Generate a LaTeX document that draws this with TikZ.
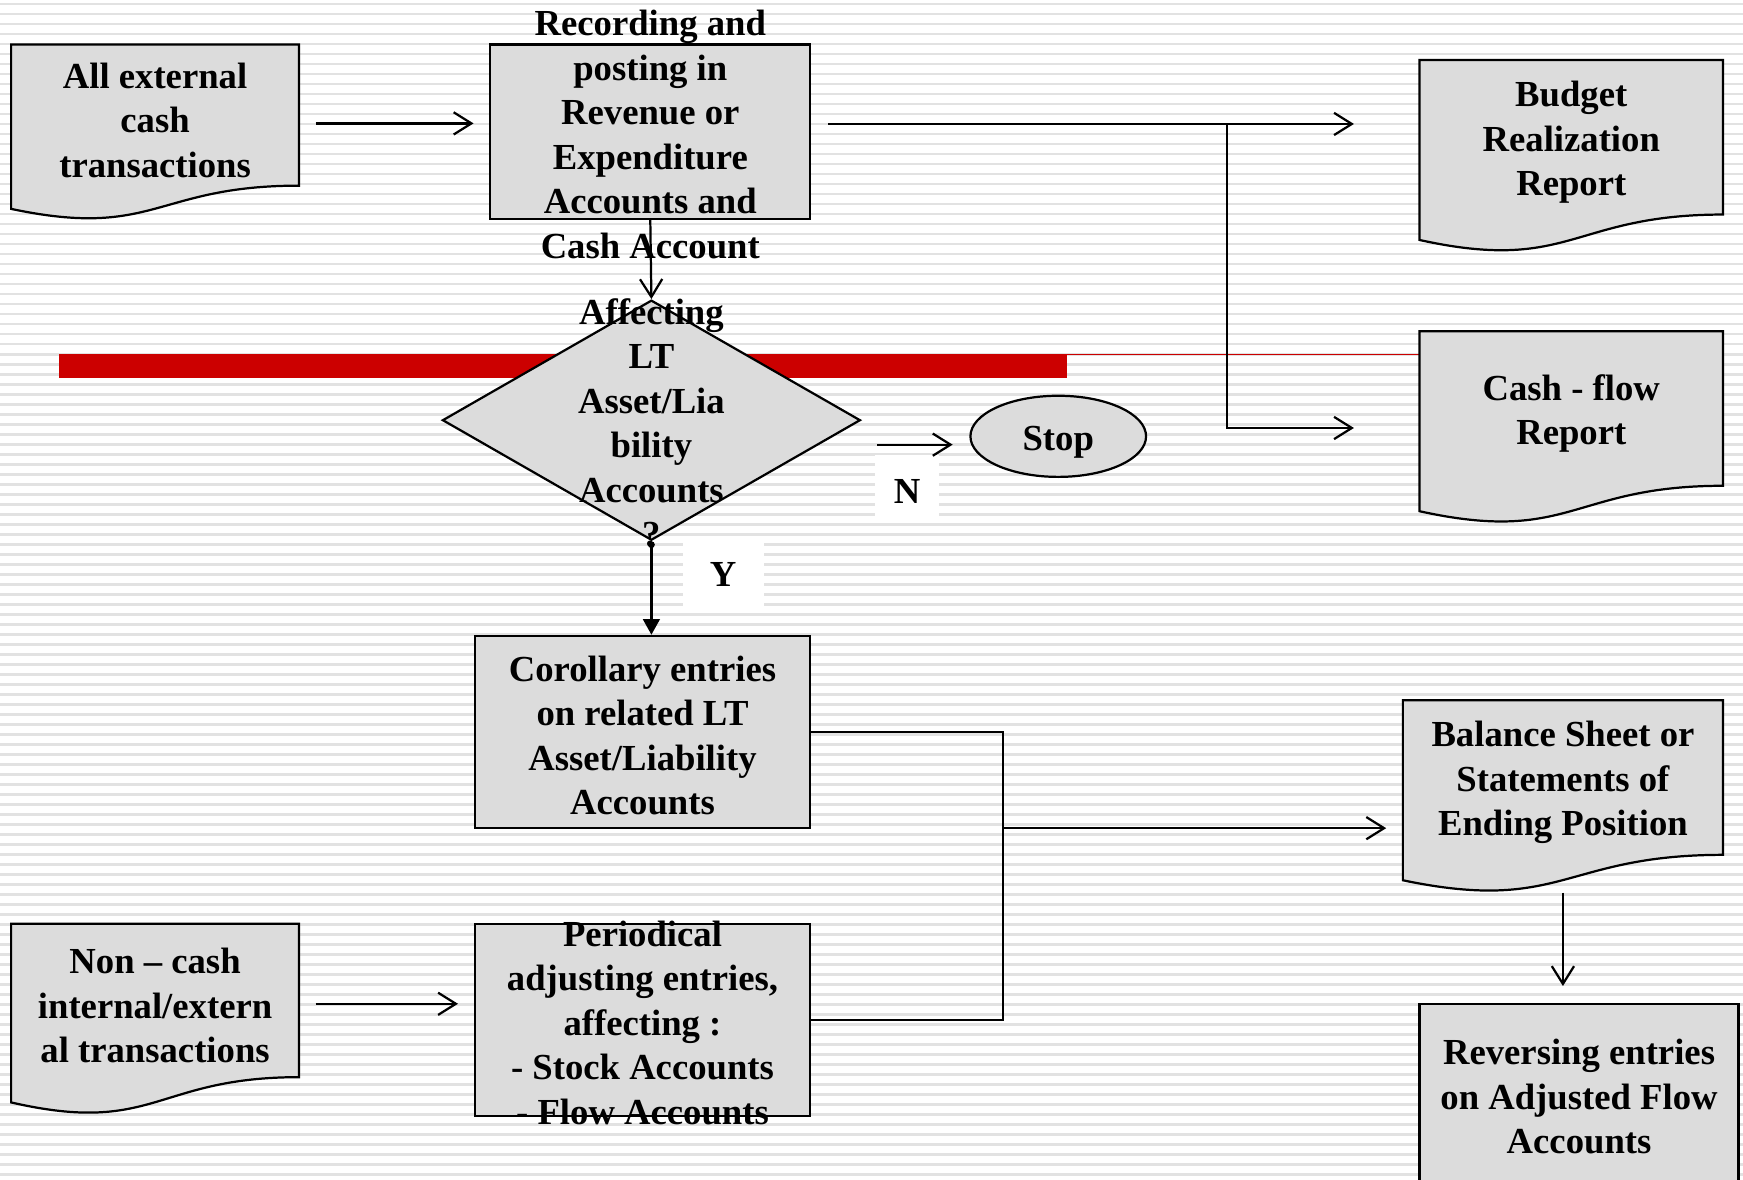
\documentclass[tikz,border=0pt]{standalone}
\usepackage{fontspec}
\setmainfont{Liberation Serif}
\usetikzlibrary{arrows.meta,shapes.geometric,calc}
\definecolor{boxgray}{HTML}{DCDCDC}
\definecolor{stripegray}{HTML}{E2E2E2}
\definecolor{redbar}{HTML}{CC0000}
\newcommand\docnode[6]{%
  \pgfmathsetmacro\dch{(#5-#3)/0.802}%
  \pgfmathsetmacro\dcm{(#2+#4)/2}%
  \filldraw[shp] (#2,#3) -- (#4,#3) -- (#4,#5) .. controls (\dcm,#5) and (\dcm,{#3+1.1075*\dch}) .. (#2,{#3+0.934*\dch}) -- cycle;
  \node[txt,minimum width={(#4-#2)*1pt},minimum height={(#5-#3)*1pt}] (#1) at (\dcm,{(#3+#5)/2}) {};%
  \node[txt] (#1t) at ([yshift=-4.5pt]#1.center) {#6};%
}
\begin{document}
\begin{tikzpicture}[x=1pt,y=-1pt,
  stripe/.style={stripegray,line width=2.4pt},
  shp/.style={draw=black,fill=boxgray,line width=2pt},
  txt/.style={font=\fontsize{33}{40}\selectfont\bfseries,align=center,inner sep=0pt,outer sep=0pt},
  boxnode/.style={shp,rectangle,inner sep=0pt},
  ln/.style={line width=2pt,black},
  arr/.style={ln,-{Straight Barb[length=16pt,width=20pt]}},
  yarr/.style={ln,{Circle[length=6pt]}-{Triangle[length=14pt,width=15pt]}},
  lab/.style={txt,fill=white}
]
\useasboundingbox (0,0) rectangle (1568,1061);
\fill[white] (0,0) rectangle (1568,1061);
\foreach \i in {0,...,117} {\draw[stripe] (0,{3.6+9*\i}) -- (1568,{3.6+9*\i});}
% red bar
\fill[redbar] (53,318) rectangle (960,340);
\draw[redbar,line width=1.3pt] (960,319) -- (1277,319);
% documents
\docnode{d1}{10}{40}{269}{167}{All external\\cash\\transactions}
\docnode{bud}{1277}{54}{1550}{193}{Budget\\Realization\\Report}
\docnode{cf}{1277}{298}{1550}{437}{Cash - flow\\Report}
\docnode{bal}{1262}{630}{1550}{769}{Balance Sheet or\\Statements of\\Ending Position}
\docnode{nc}{10}{831}{269}{969}{Non – cash\\internal/extern\\al transactions}
% boxes
\node[boxnode,minimum width=288pt,minimum height=157pt] (b2) at (585,118.5) {};
\node[txt] (b2t) at ([yshift=-2.5pt]b2.center) {Recording and\\posting in\\Revenue or\\Expenditure\\Accounts and\\Cash Account};
\node[shp,diamond,inner sep=0pt,minimum width=376pt,minimum height=216pt] (dia) at (586,378) {};
\node[txt] (diat) at ([yshift=-2.5pt]dia.center) {Affecting\\LT\\Asset/Lia\\bility\\Accounts\\?};
\node[shp,ellipse,inner sep=0pt,minimum width=158pt,minimum height=73pt] (stop) at (952,392.5) {};
\node[txt] (stopt) at ([yshift=-5pt]stop.center) {Stop};
\node[boxnode,minimum width=302pt,minimum height=173pt] (cor) at (578,658.5) {};
\node[txt] (cort) at ([yshift=-3pt]cor.center) {Corollary entries\\on related LT\\Asset/Liability\\Accounts};
\node[boxnode,minimum width=302pt,minimum height=173pt] (per) at (578,917.5) {};
\node[txt] (pert) at ([yshift=-2.5pt]per.center) {Periodical\\adjusting entries,\\affecting :\\- Stock Accounts\\- Flow Accounts};
\node[boxnode,minimum width=287pt,minimum height=165pt] (rev) at (1420.5,985.5) {};
\node[txt] (revt) at ([yshift=-1pt]rev.center) {Reversing entries\\on Adjusted Flow\\Accounts};
% labels
\node[lab,minimum width=58pt,minimum height=60pt] (nlab) at (816,439) {};
\node[txt] (nlabt) at ([yshift=-3pt]nlab.center) {N};
\node[lab,minimum width=73pt,minimum height=64pt] (ylab) at (650.5,518) {};
\node[txt] (ylabt) at ([yshift=1pt]ylab.center) {Y};
% connectors
\coordinate (j1) at (1104,111.5);
\coordinate (j2) at (902,745);
\draw[arr] ([xshift=15pt,yshift=-7.5pt]d1.east) -- ([xshift=-14pt,yshift=-7.5pt]d1.east -| b2.west);
\draw[arr] ([xshift=15pt]b2.east |- j1) -- ([xshift=-59pt]bud.west |- j1);
\draw[arr] (j1) |- ([xshift=-59pt,yshift=-17.5pt]cf.west);
\draw[arr] (b2.south) -- (dia.north);
\coordinate (nstop) at ([xshift=-15pt,yshift=-7.5pt]stop.west);
\draw[arr] ([xshift=14pt]dia.east |- nstop) -- (nstop);
\draw[yarr] (dia.south) -- (dia.south |- cor.north);
\draw[ln] (cor.east) -| (j2) |- (per.east);
\draw[arr] (j2) -- ([xshift=-15pt]bal.west |- j2);
\draw[arr] ([yshift=-34pt]bal.south) -- ([yshift=15pt]bal.south |- rev.north);
\coordinate (nper) at ([xshift=-14pt,yshift=-3pt]nc.east -| per.west);
\draw[arr] ([xshift=15pt,yshift=-3pt]nc.east) -- (nper);
\end{tikzpicture}
\end{document}
